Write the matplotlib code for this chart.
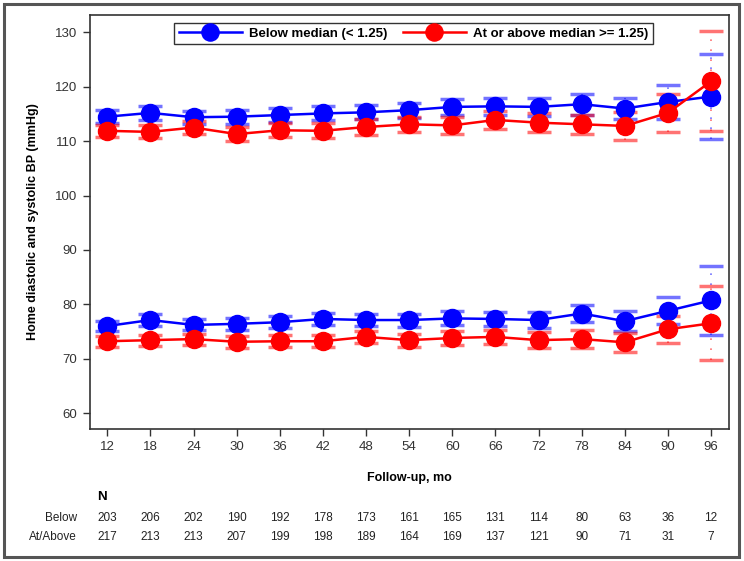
import numpy as np
import matplotlib
matplotlib.use("Agg")
import matplotlib.pyplot as plt
from matplotlib.patches import Rectangle
from matplotlib.transforms import blended_transform_factory

plt.rcParams["font.family"] = ["Liberation Sans", "DejaVu Sans"]

# follow-up months
months = [12, 18, 24, 30, 36, 42, 48, 54, 60, 66, 72, 78, 84, 90, 96]

# systolic (upper pair)
sys_below = [114.5, 115.2, 114.4, 114.5, 114.8, 115.1, 115.3, 115.7, 116.3, 116.4, 116.3, 116.8, 116.0, 117.2, 118.2]
sys_below_err = [1.2, 1.3, 1.2, 1.3, 1.3, 1.3, 1.3, 1.4, 1.5, 1.5, 1.6, 1.9, 2.0, 3.2, 7.8]
sys_above = [111.9, 111.7, 112.5, 111.3, 112.0, 111.9, 112.6, 113.1, 112.9, 113.9, 113.4, 113.1, 112.8, 115.2, 121.0]
sys_above_err = [1.1, 1.2, 1.2, 1.3, 1.3, 1.4, 1.4, 1.4, 1.5, 1.6, 1.7, 1.8, 2.5, 3.5, 9.2]

# diastolic (lower pair)
dia_below = [76.0, 77.1, 76.2, 76.4, 76.7, 77.3, 77.1, 77.1, 77.4, 77.3, 77.1, 78.3, 76.9, 78.8, 80.7]
dia_below_err = [1.0, 1.1, 1.0, 1.1, 1.1, 1.1, 1.1, 1.2, 1.3, 1.3, 1.4, 1.6, 1.8, 2.5, 6.3]
dia_above = [73.2, 73.4, 73.6, 73.1, 73.2, 73.2, 74.0, 73.4, 73.8, 74.0, 73.4, 73.6, 73.0, 75.4, 76.5]
dia_above_err = [1.0, 1.0, 1.0, 1.1, 1.1, 1.1, 1.1, 1.2, 1.3, 1.3, 1.5, 1.6, 1.8, 2.5, 6.8]

# numbers at risk
n_below = [203, 206, 202, 190, 192, 178, 173, 161, 165, 131, 114, 80, 63, 36, 12]
n_above = [217, 213, 213, 207, 199, 198, 189, 164, 169, 137, 121, 90, 71, 31, 7]

label_below = "Below median (< 1.25)"
label_above = "At or above median >= 1.25)"

fig = plt.figure(figsize=(7.44, 5.61), dpi=100)
ax = fig.add_axes([90 / 744, 132 / 561, 639 / 744, 414 / 561])

# outer frame around the whole picture
fig.patches.append(Rectangle((4 / 744, 4 / 561), 735 / 744, 553 / 561, transform=fig.transFigure,
                             fill=False, edgecolor="#555555", linewidth=2.2))

for y, e, col in [(sys_below, sys_below_err, "blue"), (sys_above, sys_above_err, "red"),
                  (dia_below, dia_below_err, "blue"), (dia_above, dia_above_err, "red")]:
    eb = ax.errorbar(months, y, yerr=e, fmt="none", ecolor=col, alpha=0.55,
                     elinewidth=1.2, capsize=8.5, capthick=2.5)
    eb[2][0].set_linestyle((0, (1, 5)))

ax.plot(months, sys_below, color="blue", lw=1.8, marker="o", ms=13, label=label_below)
ax.plot(months, sys_above, color="red", lw=1.8, marker="o", ms=13, label=label_above)
ax.plot(months, dia_below, color="blue", lw=1.8, marker="o", ms=13)
ax.plot(months, dia_above, color="red", lw=1.8, marker="o", ms=13)

ax.set_xlim(9.6, 98.5)
ax.set_ylim(57.06, 133.2)
ax.set_xticks(months)
ax.set_yticks(range(60, 131, 10))
ax.tick_params(direction="out", length=5, width=1, labelsize=9.5, colors="#333333", pad=4)
for s in ax.spines.values():
    s.set_linewidth(1.2)
    s.set_color("#333333")

ax.set_ylabel("Home diastolic and systolic BP (mmHg)", fontsize=9, fontweight="bold", labelpad=12)
fig.text(409 / 744, 1 - 478 / 561, "Follow-up, mo", ha="center", va="center", fontsize=9, fontweight="bold")

leg = ax.legend(loc="upper center", bbox_to_anchor=(0.506, 0.997), ncol=2, frameon=True, fancybox=False,
                edgecolor="black", prop={"weight": "bold", "size": 9.5},
                handlelength=4.8, columnspacing=1.2, borderpad=0.35, handletextpad=0.5, markerscale=0.95,
                borderaxespad=0.5)
leg.get_frame().set_linewidth(1.0)

# numbers at risk table
tr = blended_transform_factory(ax.transData, fig.transFigure)
fig.text(97 / 744, 1 - 497 / 561, "N", fontsize=9.5, fontweight="bold", va="center")
fig.text(77 / 744, 1 - 518 / 561, "Below", fontsize=8.5, ha="right", va="center", color="#222222")
fig.text(77 / 744, 1 - 537 / 561, "At/Above", fontsize=8.5, ha="right", va="center", color="#222222")
for m, a, b in zip(months, n_below, n_above):
    ax.text(m, 1 - 518 / 561, str(a), transform=tr, ha="center", va="center", fontsize=8.5, color="#222222")
    ax.text(m, 1 - 537 / 561, str(b), transform=tr, ha="center", va="center", fontsize=8.5, color="#222222")

fig.savefig("out.png", dpi=100)
